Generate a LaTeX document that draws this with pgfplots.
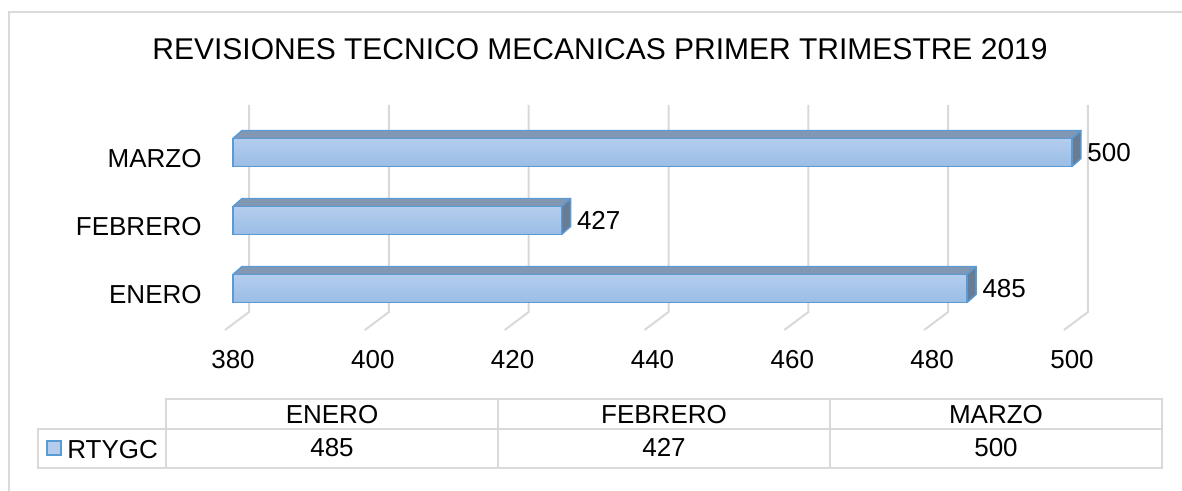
\documentclass[border=0pt]{standalone}
\usepackage{fontspec}
\setmainfont{Liberation Sans}
\usepackage{pgfplots}
\usepackage{pgfplotstable}
\pgfplotsset{compat=1.18}
\definecolor{barfront1}{RGB}{180,205,237}
\definecolor{barfront2}{RGB}{155,189,230}
\definecolor{bartop}{RGB}{130,151,178}
\definecolor{barside}{RGB}{104,124,150}
\definecolor{baredge}{RGB}{91,155,213}
\definecolor{gridgray}{RGB}{217,217,217}

\pgfplotstableread{
pos val
0 485
1 427
2 500
}\revisiones

\newcommand{\lbl}{\fontsize{13}{15}\selectfont}

\begin{document}
\begin{tikzpicture}[x=0.5pt,y=-0.5pt]
% marco exterior
\draw[gridgray, line width=1pt] (9,12) rectangle (1300,600);
\node[anchor=base, inner sep=0pt, font=\fontsize{15}{18}\selectfont] at (600,60)
  {REVISIONES TECNICO MECANICAS PRIMER TRIMESTRE 2019};
% pared y suelo 3D
\foreach \k in {0,...,6} {
  \pgfmathsetmacro\xf{233+139.83*\k}
  \draw[gridgray, line width=1pt] (\xf+16,105) -- (\xf+16,312) -- (\xf-8,330);
}

\begin{axis}[
  at={(116.5pt,-169.75pt)}, anchor=south west,
  x=3.4958pt, y=34pt,
  xmin=380, xmax=500, ymin=-0.75, ymax=2.5,
  axis line style={draw=none}, tick style={draw=none},
  xtick={380,400,...,500},
  ytick={0,1,2}, yticklabels={ENERO,FEBRERO,MARZO},
  xticklabel style={anchor=north, inner sep=0pt, yshift=-5.25pt, font=\lbl},
  yticklabel style={anchor=east, inner sep=0pt, xshift=-15.5pt, yshift=-3pt, font=\lbl},
  /pgf/number format/assume math mode=true,
  clip=false,
]
% barras 3D: cara frontal, superior y lateral
\addplot[
  scatter, only marks, mark=*, mark size=0pt,
  mark options={draw=none, fill=none},
  visualization depends on={\thisrow{val} \as \valor},
  scatter/@pre marker code/.code={
    \pgfmathsetmacro\L{(\valor-380)*3.4958}
    \path[fill=bartop, draw=baredge, line width=0.7pt, line join=round]
      (-\L pt,7pt) -- (0pt,7pt) -- (4.5pt,11pt) -- (-\L pt+4.5pt,11pt) -- cycle;
    \path[fill=barside, draw=baredge, line width=0.7pt, line join=round]
      (0pt,-7pt) -- (0pt,7pt) -- (4.5pt,11pt) -- (4.5pt,-3pt) -- cycle;
    \path[top color=barfront1, bottom color=barfront2, draw=baredge, line width=0.8pt]
      (-\L pt,-7pt) rectangle (0pt,7pt);
  },
  scatter/@post marker code/.code={},
] table[x=val, y=pos] {\revisiones};
% etiquetas de valor
\addplot[
  only marks, mark=*, mark size=0pt, mark options={draw=none, fill=none},
  point meta=x,
  nodes near coords,
  nodes near coords align={horizontal},
  every node near coord/.append style={anchor=west, xshift=7.5pt, inner sep=0pt,
    font=\lbl, text=black},
] table[x=val, y=pos] {\revisiones};
\end{axis}

% tabla de datos
\begin{scope}[gridgray, line width=1pt]
\draw (166,399) rectangle (1162,468);
\draw (38,429) rectangle (166,468);
\draw (166,429) -- (1162,429);
\draw (498,399) -- (498,468);
\draw (830,399) -- (830,468);
\end{scope}
\begin{scope}[every node/.style={anchor=base, inner sep=0pt, font=\lbl}]
\node at (332,423) {ENERO};
\node at (664,423) {FEBRERO};
\node at (996,423) {MARZO};
\node at (332,456.5) {485};
\node at (664,456.5) {427};
\node at (996,456.5) {500};
\node[anchor=base west] at (67,458) {RTYGC};
\end{scope}
\fill[barfront1, draw=baredge, line width=0.8pt] (47,441) rectangle (61,455);

\pgfresetboundingbox
\path[use as bounding box] (0,0) rectangle (1182,491);
\end{tikzpicture}
\end{document}
